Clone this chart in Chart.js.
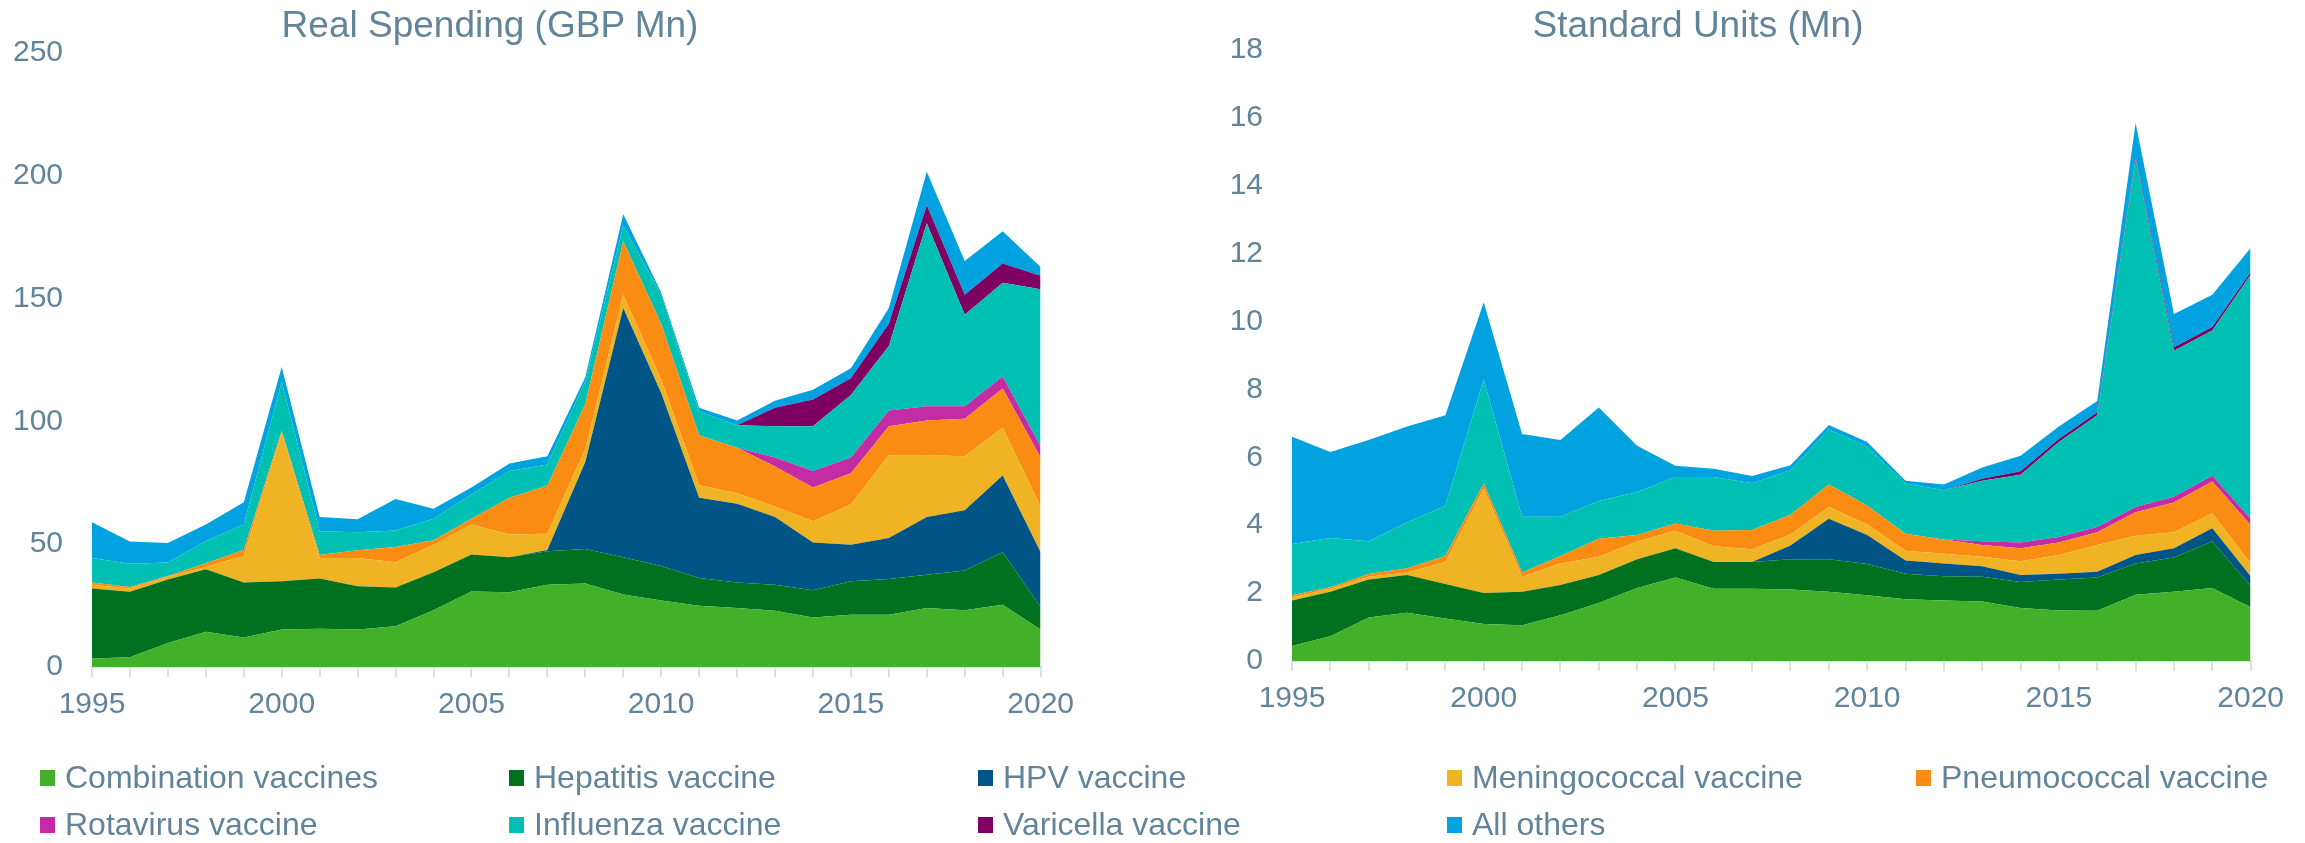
<!DOCTYPE html>
<html>
<head>
<meta charset="utf-8">
<script src="https://cdn.jsdelivr.net/npm/chart.js@4.4.0/dist/chart.umd.min.js"></script>
<style>
  html, body { margin: 0; padding: 0; background: #ffffff; }
  body { width: 2305px; height: 843px; position: relative; overflow: hidden; }
  canvas { position: absolute; top: 0; }
  .chart-title {
    position: absolute; top: 3px; width: 700px; text-align: center;
    font-family: "Liberation Sans", Arial, sans-serif; font-size: 37px; line-height: 44px; color: #62849a;
  }
  #legend {
    position: absolute; left: 40px; top: 754px;
    display: grid; grid-template-columns: repeat(5, 469px); grid-auto-rows: 47px;
    font-family: "Liberation Sans", Arial, sans-serif; font-size: 32px; color: #62849a;
  }
  .item { display: flex; align-items: center; white-space: nowrap; }
  .swatch { width: 15px; height: 16px; margin-right: 10px; flex: none; }
</style>
</head>
<body>
<canvas id="spendChart" width="1084" height="760" style="left:0px"></canvas>
<canvas id="unitsChart" width="1072" height="754" style="left:1222px"></canvas>
<div class="chart-title" style="left:140px">Real Spending (GBP Mn)</div>
<div class="chart-title" style="left:1348px">Standard Units (Mn)</div>
<div id="legend"></div>
<script>
/* Categories and series */
const years = ['1995','1996','1997','1998','1999','2000','2001','2002','2003','2004','2005','2006','2007',
  '2008','2009','2010','2011','2012','2013','2014','2015','2016','2017','2018','2019','2020'];

const seriesNames = ['Combination vaccines', 'Hepatitis vaccine', 'HPV vaccine', 'Meningococcal vaccine',
  'Pneumococcal vaccine', 'Rotavirus vaccine', 'Influenza vaccine', 'Varicella vaccine', 'All others'];
const seriesColors = ['#43b02a', '#00711f', '#005587', '#f0b323', '#fb8c13', '#c42ca6', '#00bfb3', '#7d0062', '#00a3e0'];

// Real spending (GBP Mn)
const spendCombination = [3.5,4,9.8,14.4,12,15.3,15.6,15.3,16.6,23.1,30.7,30.4,33.5,34,29.5,27.1,24.9,24,22.9,20.2,21.3,21.3,24,23.1,25.3,15.3];
const spendHepatitis = [28.5,26.6,25.8,25.4,22.4,19.6,20.4,17.6,15.8,15.5,15.1,14.3,13.6,14,15.2,14,11.3,10.4,10.6,11.1,13.6,14.5,13.6,16.2,21.4,9.1];
const spendHpv = [0,0,0,0,0,0,0,0,0,0,0,0,0.5,35.5,101.5,70.5,32.7,32.1,27.6,19.4,14.9,16.7,23.5,24.5,31.3,22.3];
const spendMeningococcal = [1.5,1.4,1.1,0.9,10.9,60.4,8.4,11.5,10.2,11.2,12.2,9.3,6.7,5.4,5.4,5.5,5.1,4.2,4.2,8.6,16.4,33.7,25.1,22,19.4,18.6];
const spendPneumococcal = [0.9,0.6,0.4,1.5,2.3,0.9,1.2,3.1,6.3,1.8,2.4,14.9,19.5,18.2,21.8,22.7,20.4,18.6,16.3,13.8,12.7,11.8,14.2,15.3,16,20];
const spendRotavirus = [0,0,0,0,0,0,0,0,0,0,0,0,0,0,0,0,0,0,3.7,6.7,6.4,6.4,5.8,5.1,4.9,4.5];
const spendInfluenza = [10,9.4,5.4,9.1,10.4,20,9.7,7.4,6.7,8.8,9.8,10.9,8.7,9.1,6.4,11.8,9.6,9.1,12.7,18.2,25.4,26.3,74.5,37.2,38.2,64];
const spendVaricella = [0,0,0,0,0,0,0,0,0,0,0,0,0,0,0,0,0,0,7.6,10.9,6.9,9.1,7.3,8.2,7.8,5.5];
const spendOthers = [14.5,9.1,8,6.7,9.1,6,5.8,5.3,12.8,4,2.9,3.1,3.3,1.8,4.5,0.9,1.6,2,2.8,4,4,6.4,13.6,13.7,13.1,3.6];

// Standard units (Mn)
const unitsCombination = [0.44,0.73,1.28,1.42,1.25,1.09,1.05,1.35,1.71,2.15,2.46,2.13,2.13,2.11,2.04,1.94,1.82,1.78,1.75,1.56,1.49,1.48,1.95,2.04,2.15,1.58];
const unitsHepatitis = [1.34,1.31,1.12,1.11,1.02,0.91,0.99,0.89,0.82,0.85,0.86,0.79,0.79,0.89,0.96,0.92,0.75,0.72,0.73,0.77,0.91,0.98,0.92,1.01,1.38,0.63];
const unitsHpv = [0,0,0,0,0,0,0,0,0,0,0,0,0,0.4,1.19,0.85,0.39,0.37,0.31,0.2,0.17,0.17,0.25,0.27,0.38,0.29];
const unitsMeningococcal = [0.09,0.09,0.08,0.08,0.65,3.07,0.44,0.63,0.54,0.52,0.52,0.46,0.37,0.33,0.35,0.31,0.29,0.29,0.28,0.41,0.55,0.79,0.57,0.47,0.44,0.37];
const unitsPneumococcal = [0.07,0.04,0.08,0.12,0.17,0.16,0.13,0.22,0.53,0.19,0.21,0.46,0.57,0.58,0.66,0.56,0.5,0.42,0.35,0.38,0.37,0.37,0.69,0.88,0.94,1.14];
const unitsRotavirus = [0,0,0,0,0,0,0,0,0,0,0,0,0,0,0,0,0,0,0.11,0.17,0.16,0.16,0.16,0.17,0.17,0.18];
const unitsInfluenza = [1.51,1.45,0.97,1.35,1.48,3.06,1.64,1.16,1.11,1.27,1.37,1.58,1.38,1.31,1.62,1.73,1.48,1.45,1.78,2,2.8,3.29,10.26,4.3,4.28,7.19];
const unitsVaricella = [0,0,0,0,0,0,0,0,0,0,0,0,0,0,0,0,0,0,0.06,0.1,0.09,0.09,0.07,0.1,0.1,0.07];
const unitsOthers = [3.16,2.54,2.98,2.83,2.67,2.28,2.44,2.26,2.76,1.36,0.33,0.24,0.21,0.15,0.13,0.14,0.08,0.17,0.33,0.46,0.37,0.33,0.98,0.98,0.95,0.72];

const spendSeries = [spendCombination, spendHepatitis, spendHpv, spendMeningococcal, spendPneumococcal,
  spendRotavirus, spendInfluenza, spendVaricella, spendOthers];
const unitsSeries = [unitsCombination, unitsHepatitis, unitsHpv, unitsMeningococcal, unitsPneumococcal,
  unitsRotavirus, unitsInfluenza, unitsVaricella, unitsOthers];

const textColor = '#62849a';
const axisColor = '#dae2e9';
const fontFamily = '"Liberation Sans", Arial, sans-serif';

function makeChart(canvasId, series, yMax, yStep, yAxisWidth, padLeft, padTop) {
  const ctx = document.getElementById(canvasId).getContext('2d');
  const datasets = series.map((values, i) => ({
    label: seriesNames[i],
    data: values,
    backgroundColor: seriesColors[i],
    borderColor: seriesColors[i],
    borderWidth: 0,
    pointRadius: 0,
    tension: 0,
    fill: i === 0 ? 'origin' : '-1'
  }));

  return new Chart(ctx, {
    type: 'line',
    data: { labels: years, datasets: datasets },
    options: {
      responsive: false,
      animation: false,
      layout: { padding: { left: padLeft, right: 34, top: padTop, bottom: 33 } },
      plugins: {
        legend: { display: false },
        tooltip: { enabled: false }
      },
      scales: {
        x: {
          offset: false,
          grid: {
            display: true,
            drawOnChartArea: false,
            drawTicks: true,
            tickLength: 10,
            color: axisColor,
            lineWidth: 2
          },
          border: { display: true, color: axisColor, width: 2 },
          ticks: {
            autoSkip: false,
            maxRotation: 0,
            padding: 10,
            color: textColor,
            font: { family: fontFamily, size: 30 },
            callback: function (value, index) {
              const year = years[index];
              return Number(year) % 5 === 0 ? year : '';
            }
          },
          afterFit: function (scale) { scale.height = 60; }
        },
        y: {
          stacked: true,
          min: 0,
          max: yMax,
          grid: { display: false, drawTicks: false },
          border: { display: false },
          ticks: {
            stepSize: yStep,
            padding: 29,
            color: textColor,
            font: { family: fontFamily, size: 30 }
          },
          afterFit: function (scale) { scale.width = yAxisWidth; }
        }
      }
    }
  });
}

makeChart('spendChart', spendSeries, 250, 50, 78, 14, 53);
makeChart('unitsChart', unitsSeries, 18, 2, 64, 6, 50);

// Shared legend built from the series lists
const legendBox = document.getElementById('legend');
seriesNames.forEach((name, i) => {
  const item = document.createElement('div');
  item.className = 'item';
  const swatch = document.createElement('span');
  swatch.className = 'swatch';
  swatch.style.background = seriesColors[i];
  const label = document.createElement('span');
  label.textContent = name;
  item.appendChild(swatch);
  item.appendChild(label);
  legendBox.appendChild(item);
});
</script>
</body>
</html>
